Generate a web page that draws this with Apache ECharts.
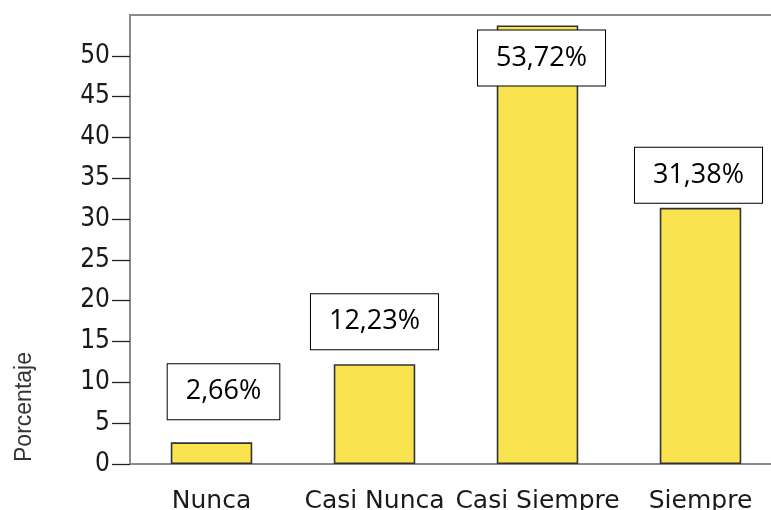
<!DOCTYPE html>
<html>
<head>
<meta charset="utf-8">
<script src="https://cdn.jsdelivr.net/npm/echarts@6/dist/echarts.min.js"></script>
<style>html,body{margin:0;padding:0;background:#fff}#c{width:771px;height:510px}</style>
</head>
<body>
<div id="c"></div>
<script>
var categories = ['Nunca', 'Casi Nunca', 'Casi Siempre', 'Siempre'];
var percentages = [2.66, 12.23, 53.72, 31.38];
var yTicks = [0, 5, 10, 15, 20, 25, 30, 35, 40, 45, 50];
var yAxisTitle = 'Porcentaje';

// label box placement (styles only)
var labelPlacement = [
  {position: 'top', distance: 23, offset: [12, 0]},
  {position: 'top', distance: 15, offset: [0, 0]},
  {position: 'insideTop', distance: 5, offset: [4, 0]},
  {position: 'top', distance: 5, offset: [-2, 0]}
];

var chart = echarts.init(document.getElementById('c'), null, {renderer: 'canvas'});
var data = percentages.map(function (v, i) {
  return {value: v, label: labelPlacement[i]};
});

chart.setOption({
  animation: false,
  grid: {left: 130, top: 15, width: 652, bottom: 46, containLabel: false, outerBoundsMode: 'none', show: true, borderColor: '#8a8a8a', borderWidth: 2, backgroundColor: 'transparent'},
  xAxis: {
    type: 'category',
    data: categories,
    axisLine: {lineStyle: {color: '#8a8a8a', width: 2}},
    axisTick: {alignWithLabel: true, length: 17, lineStyle: {color: '#555', width: 2}},
    axisLabel: {interval: 0, margin: 25, fontFamily: 'DejaVu Sans', fontSize: 25, color: '#1a1a1a'}
  },
  yAxis: {
    type: 'value',
    min: 0,
    max: 55,
    interval: 5,
    splitLine: {show: false},
    axisLine: {show: true, lineStyle: {color: '#8a8a8a', width: 2}},
    axisTick: {show: true, length: 18, customValues: yTicks, lineStyle: {color: '#222', width: 1.3}},
    axisLabel: {margin: 20, customValues: yTicks, fontFamily: '"DejaVu Sans Condensed", "DejaVu Sans"', fontSize: 26, color: '#1a1a1a'}
  },
  graphic: [{
    type: 'text',
    x: 25, y: 407,
    rotation: Math.PI / 2,
    style: {text: yAxisTitle, font: '23px "Liberation Sans"', fill: '#333', textAlign: 'center', textVerticalAlign: 'middle'}
  }],
  series: [{
    type: 'bar',
    data: data,
    barWidth: '50%',
    itemStyle: {color: '#F9E44F', borderColor: '#333', borderWidth: 1.6},
    label: {
      show: true,
      formatter: function (p) { return p.value.toFixed(2).replace('.', ',') + '%'; },
      fontFamily: 'Open Sans',
      fontSize: 27,
      lineHeight: 31,
      color: '#000',
      backgroundColor: '#fff',
      borderColor: '#000',
      borderWidth: 1,
      padding: [12, 18]
    }
  }]
});
</script>
</body>
</html>
